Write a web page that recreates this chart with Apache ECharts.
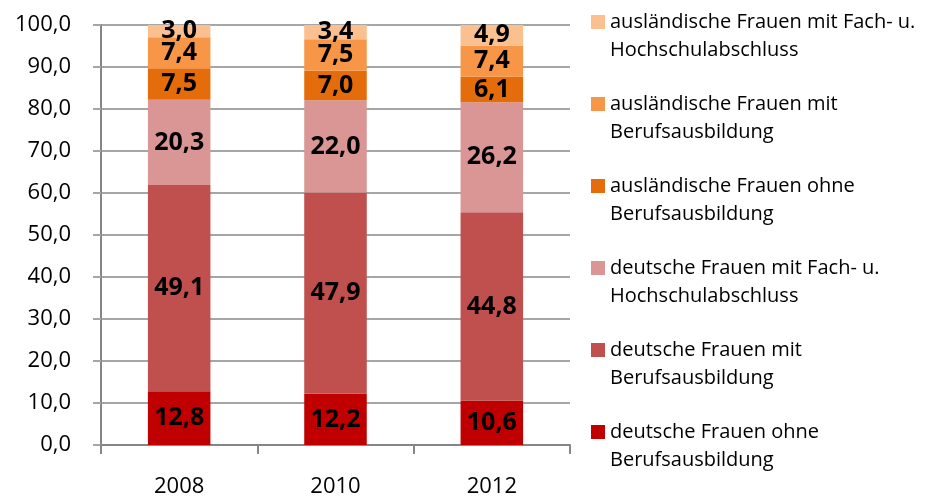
<!DOCTYPE html>
<html>

<head>
    <meta charset="utf-8">
</head>

<body style="height: 100%; margin: 0">
    <div id="container" style="height:499px;width: 933px"></div>
    <script type="text/javascript" src="https://cdn.jsdelivr.net/npm/echarts@6/dist/echarts.min.js"></script>
    <script type="text/javascript">
        // Jahre
        var years = ['2008', '2010', '2012'];
        // Anteile in Prozent, von unten nach oben gestapelt
        var deOhne = [12.8, 12.2, 10.6];
        var deMit = [49.1, 47.9, 44.8];
        var deHoch = [20.3, 22.0, 26.2];
        var ausOhne = [7.5, 7.0, 6.1];
        var ausMit = [7.4, 7.5, 7.4];
        var ausHoch = [3.0, 3.4, 4.9];

        var names = [
            'deutsche Frauen ohne\nBerufsausbildung',
            'deutsche Frauen mit\nBerufsausbildung',
            'deutsche Frauen mit Fach- u.\nHochschulabschluss',
            'ausländische Frauen ohne\nBerufsausbildung',
            'ausländische Frauen mit\nBerufsausbildung',
            'ausländische Frauen mit Fach- u.\nHochschulabschluss'
        ];
        var values = [deOhne, deMit, deHoch, ausOhne, ausMit, ausHoch];
        var colors = ['#c00000', '#c0504d', '#d99694', '#e46c0a', '#f79646', '#fac090'];

        var font = '"Open Sans", sans-serif';

        function komma(v) {
            return v.toFixed(1).replace('.', ',');
        }

        var dom = document.getElementById("container");
        var myChart = echarts.init(dom);

        var series = [];
        for (var i = 0; i < names.length; i++) {
            series.push({
                name: names[i],
                type: 'bar',
                stack: 'gesamt',
                barWidth: '40%',
                data: values[i],
                itemStyle: { color: colors[i] },
                label: {
                    show: true,
                    position: 'inside',
                    color: '#000',
                    fontFamily: font,
                    fontWeight: 'bold',
                    fontSize: 25,
                    formatter: function (p) {
                        return komma(p.value);
                    }
                }
            });
        }

        var option = {
            animation: false,
            color: colors,
            grid: {
                left: 101,
                right: 363,
                top: 25,
                bottom: 54
            },
            legend: {
                orient: 'vertical',
                left: 591,
                top: -20,
                padding: 0,
                itemGap: -2,
                itemWidth: 14,
                itemHeight: 14,
                icon: 'rect',
                data: names.slice().reverse(),
                // leere erste Zeile, damit das Symbol neben der ersten Textzeile steht
                formatter: function (name) {
                    return '\n' + name;
                },
                textStyle: {
                    fontFamily: font,
                    fontSize: 20,
                    color: '#000',
                    lineHeight: 28
                }
            },
            xAxis: {
                type: 'category',
                data: years,
                axisLine: { lineStyle: { color: '#868686', width: 2 } },
                axisTick: { show: true, length: 9, lineStyle: { color: '#868686', width: 2 } },
                axisLabel: {
                    margin: 31,
                    color: '#000',
                    fontFamily: font,
                    fontSize: 22
                }
            },
            yAxis: {
                type: 'value',
                min: 0,
                max: 100,
                interval: 10,
                axisLine: { show: true, lineStyle: { color: '#868686', width: 2 } },
                axisTick: { show: true, length: 8, lineStyle: { color: '#a6a6a6', width: 2 } },
                splitLine: { lineStyle: { color: '#a6a6a6', width: 2 } },
                axisLabel: {
                    margin: 30,
                    color: '#000',
                    fontFamily: font,
                    fontSize: 22,
                    formatter: function (v) {
                        return komma(v);
                    }
                }
            },
            series: series
        };

        myChart.setOption(option);
    </script>
</body>

</html>
